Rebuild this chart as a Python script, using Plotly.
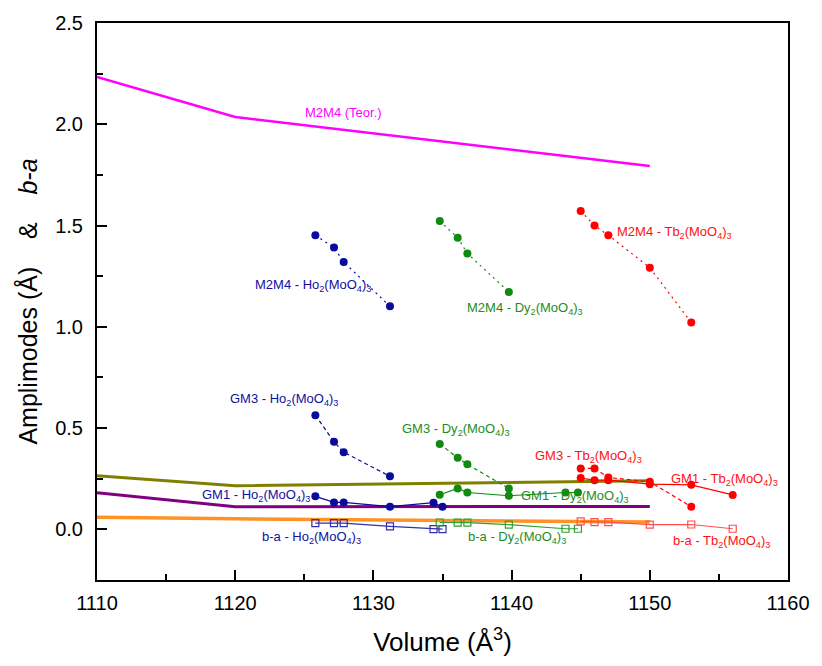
import plotly.graph_objects as go

# ---- data ----
vol_teor = [1110, 1120, 1150]
m2m4_teor = [2.234, 2.036, 1.794]
gm3_teor = [0.265, 0.215, 0.240]
gm1_teor = [0.181, 0.112, 0.113]
ba_teor = [0.060, 0.052, 0.036]

vol_ho_m = [1125.8, 1127.15, 1127.85, 1131.2]
ho_m2m4 = [1.452, 1.391, 1.320, 1.101]
ho_gm3 = [0.564, 0.432, 0.381, 0.262]
vol_ho = [1125.8, 1127.15, 1127.85, 1131.2, 1134.35, 1135.0]
ho_gm1 = [0.163, 0.133, 0.133, 0.112, 0.132, 0.112]
ho_ba = [0.031, 0.031, 0.031, 0.015, 0.001, 0.001]

vol_dy_m = [1134.8, 1136.1, 1136.8, 1139.8]
dy_m2m4 = [1.522, 1.440, 1.362, 1.172]
dy_gm3 = [0.422, 0.353, 0.321, 0.202]
vol_dy = [1134.8, 1136.1, 1136.8, 1139.8, 1143.9, 1144.8]
dy_gm1 = [0.171, 0.202, 0.182, 0.166, 0.182, 0.182]
dy_ba = [0.034, 0.033, 0.033, 0.023, 0.003, 0.003]

vol_tb_m = [1145.0, 1146.0, 1147.0, 1150.0, 1153.0]
tb_m2m4 = [1.572, 1.500, 1.452, 1.292, 1.021]
tb_gm3 = [0.301, 0.301, 0.256, 0.235, 0.112]
vol_tb = [1145.0, 1146.0, 1147.0, 1150.0, 1153.0, 1156.0]
tb_gm1 = [0.253, 0.243, 0.243, 0.223, 0.220, 0.170]
tb_ba = [0.039, 0.036, 0.036, 0.023, 0.024, 0.003]

# labels: (text, x, y, color)
labels = [
    ("M2M4 (Teor.)", 1127.8, 2.06, "#FF00FF"),
    ("M2M4 - Ho<sub>2</sub>(MoO<sub>4</sub>)<sub>3</sub>", 1125.6, 1.205, "#1010A0"),
    ("GM3 - Ho<sub>2</sub>(MoO<sub>4</sub>)<sub>3</sub>", 1123.5, 0.64, "#1010A0"),
    ("GM1 - Ho<sub>2</sub>(MoO<sub>4</sub>)<sub>3</sub>", 1121.5, 0.167, "#1010A0"),
    ("b-a - Ho<sub>2</sub>(MoO<sub>4</sub>)<sub>3</sub>", 1125.5, -0.042, "#1010A0"),
    ("M2M4 - Dy<sub>2</sub>(MoO<sub>4</sub>)<sub>3</sub>", 1141.0, 1.09, "#1E8C1E"),
    ("GM3 - Dy<sub>2</sub>(MoO<sub>4</sub>)<sub>3</sub>", 1136.0, 0.495, "#1E8C1E"),
    ("GM1 - Dy<sub>2</sub>(MoO<sub>4</sub>)<sub>3</sub>", 1144.6, 0.162, "#1E8C1E"),
    ("b-a - Dy<sub>2</sub>(MoO<sub>4</sub>)<sub>3</sub>", 1140.4, -0.038, "#1E8C1E"),
    ("M2M4 - Tb<sub>2</sub>(MoO<sub>4</sub>)<sub>3</sub>", 1151.8, 1.465, "#FF1010"),
    ("GM3 - Tb<sub>2</sub>(MoO<sub>4</sub>)<sub>3</sub>", 1145.6, 0.362, "#FF1010"),
    ("GM1 - Tb<sub>2</sub>(MoO<sub>4</sub>)<sub>3</sub>", 1155.4, 0.248, "#FF1010"),
    ("b-a - Tb<sub>2</sub>(MoO<sub>4</sub>)<sub>3</sub>", 1155.2, -0.062, "#FF1010"),
]

BLUE = "#0A0A9C"
GREEN = "#108A10"
RED = "#FF0000"

fig = go.Figure()

# thick theoretical lines
fig.add_trace(go.Scatter(x=vol_teor, y=m2m4_teor, mode="lines", line=dict(color="#FF00FF", width=2.5)))
fig.add_trace(go.Scatter(x=vol_teor, y=gm3_teor, mode="lines", line=dict(color="#808000", width=3)))
fig.add_trace(go.Scatter(x=vol_teor, y=gm1_teor, mode="lines", line=dict(color="#800080", width=3)))
fig.add_trace(go.Scatter(x=vol_teor, y=ba_teor, mode="lines", line=dict(color="#FF8000", width=3.5), opacity=0.85))

DOT = "2px,4px"
DASH = "4px,3px"


def add_series(x, y, color, dash, fill=True):
    marker = dict(size=8, color=color, symbol="circle")
    if not fill:
        marker = dict(size=7, symbol="square-open", color=color, line=dict(width=1.2, color=color))
    fig.add_trace(go.Scatter(x=x, y=y, mode="lines+markers",
                             line=dict(color=color, width=1.2, dash=dash),
                             marker=marker))


# Ho
add_series(vol_ho_m, ho_m2m4, BLUE, DOT)
add_series(vol_ho_m, ho_gm3, BLUE, DASH)
add_series(vol_ho, ho_gm1, BLUE, "solid")
add_series(vol_ho, ho_ba, "#3030B0", "solid", fill=False)
# Dy
add_series(vol_dy_m, dy_m2m4, GREEN, DOT)
add_series(vol_dy_m, dy_gm3, GREEN, DASH)
add_series(vol_dy, dy_gm1, GREEN, "solid")
add_series(vol_dy, dy_ba, "#30A030", "solid", fill=False)
# Tb
add_series(vol_tb_m, tb_m2m4, RED, DOT)
add_series(vol_tb_m, tb_gm3, RED, DASH)
add_series(vol_tb, tb_gm1, RED, "solid")
add_series(vol_tb, tb_ba, "#FF5050", "solid", fill=False)

for txt, x, y, c in labels:
    fig.add_annotation(x=x, y=y, xref="x", yref="y", text=txt, showarrow=False,
                       font=dict(size=13, color=c, family="Arial, Liberation Sans"))

nb = "\u00a0"
fig.update_layout(
    width=822, height=666,
    margin=dict(l=97, r=27, t=17, b=86),
    paper_bgcolor="white", plot_bgcolor="white",
    showlegend=False,
    font=dict(family="Arial, Liberation Sans", color="black"),
    xaxis=dict(range=[1110, 1160], dtick=10, tick0=1110, ticks="inside", ticklen=10, tickwidth=1.5,
               tickcolor="black", showline=True, linecolor="black", linewidth=2, mirror=True,
               showgrid=False, zeroline=False, tickfont=dict(size=20), ticklabelstandoff=4,
               minor=dict(ticks="inside", ticklen=6, dtick=5, tickwidth=1.5, tickcolor="black"),
               title=dict(text="Volume (Å<sup>3</sup>)", font=dict(size=26), standoff=20)),
    yaxis=dict(range=[-0.25, 2.5], dtick=0.5, tick0=0, tickformat=".1f", ticks="inside", ticklen=10,
               tickwidth=1.5, tickcolor="black", showline=True, linecolor="black", linewidth=2,
               mirror=True, showgrid=False, zeroline=False, tickfont=dict(size=20), ticklabelstandoff=8,
               minor=dict(ticks="inside", ticklen=6, dtick=0.25, tickwidth=1.5, tickcolor="black"),
               title=dict(text="Amplimodes (Å)" + nb * 4 + "&" + nb * 4 + "<i>b-a</i>" + nb * 3,
                          font=dict(size=25), standoff=10)),
)

fig.write_html("out.html", config={"displayModeBar": False},
               post_script="document.body.style.margin='0';document.body.style.padding='0';"
                           "document.documentElement.style.overflow='hidden';")
